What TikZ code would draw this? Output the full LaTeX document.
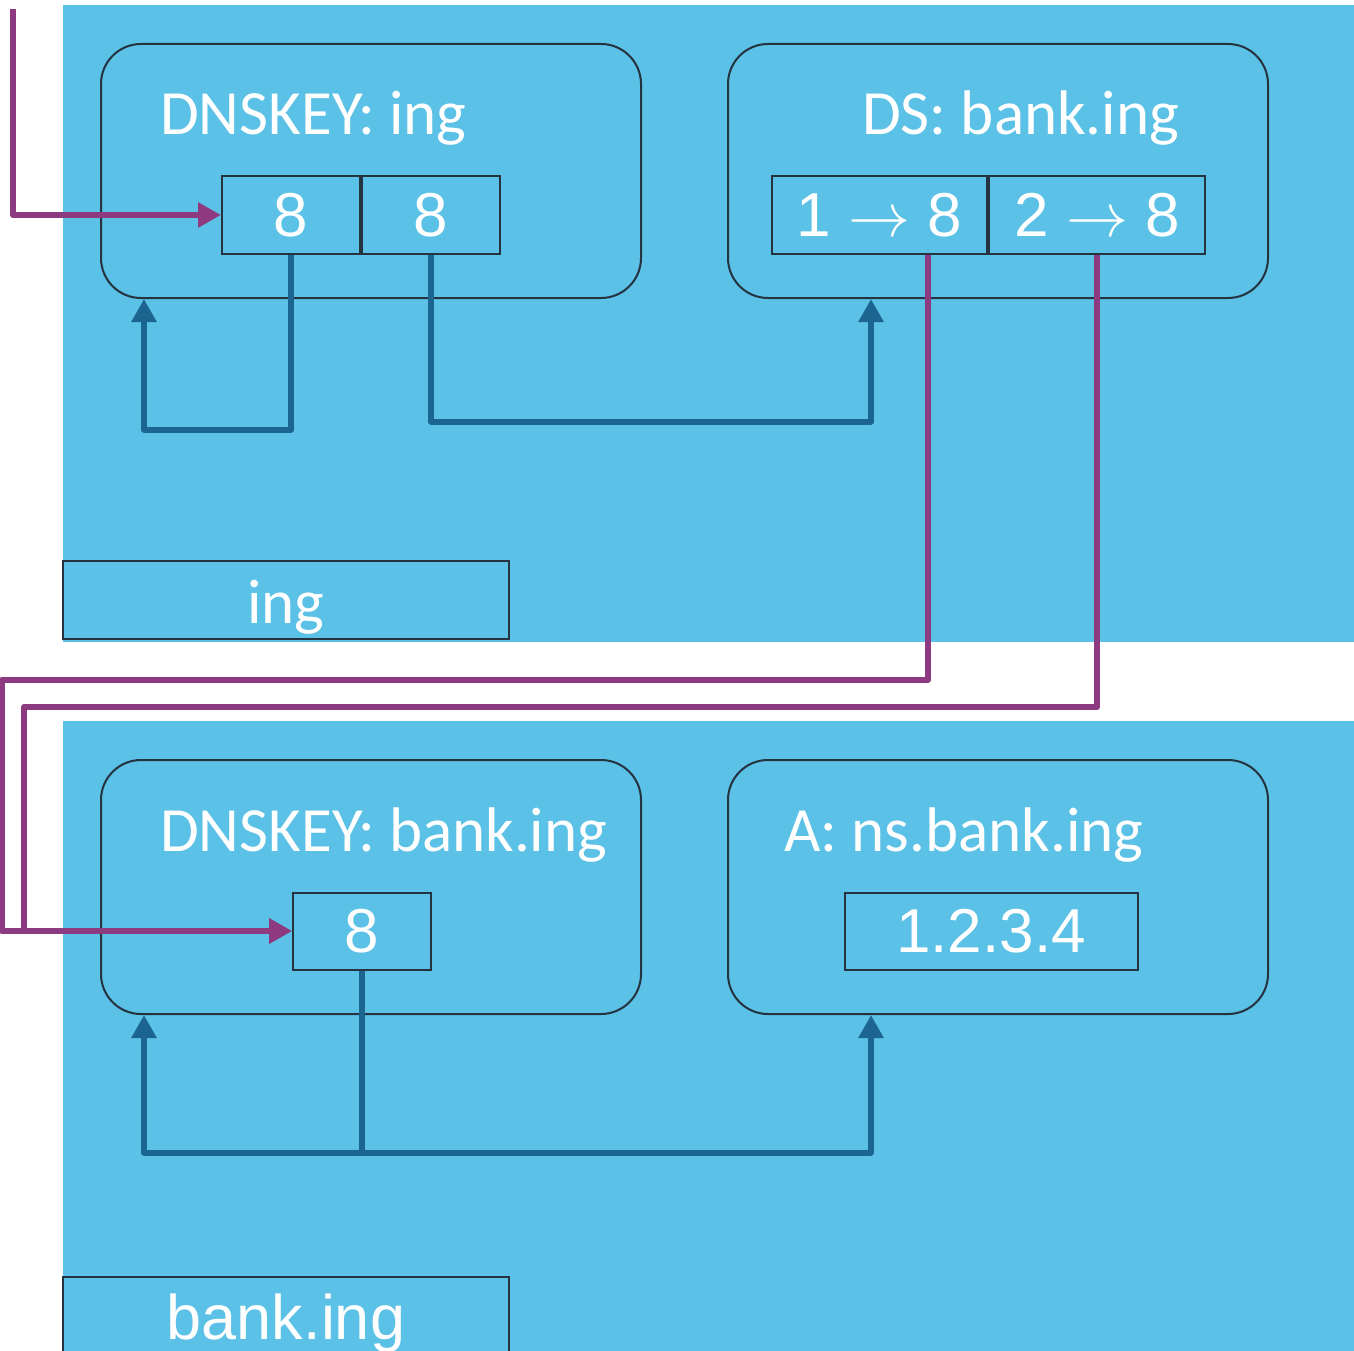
\RequirePackage{fix-cm}
\documentclass[tikz,border=0pt]{standalone}
\usepackage{fontspec}
\setmainfont{Carlito}
\newfontfamily\arialfont{Liberation Sans}
\usepackage{xcolor}
\usetikzlibrary{arrows.meta,positioning,calc}

\definecolor{zoneblue}{HTML}{5BC1E6}
\definecolor{linkblue}{HTML}{1C6590}
\definecolor{dspurple}{HTML}{8E3A80}
\definecolor{edgegray}{HTML}{25323F}

\begin{document}
\begin{tikzpicture}[x=1pt,y=-1pt]
\tikzset{zone/.style={fill=zoneblue,draw=none}}
\tikzset{rrset/.style={draw=edgegray,line width=2pt,rounded corners=40pt,minimum width=540pt,minimum height=254pt,inner sep=0pt}}
\tikzset{cell/.style={draw=edgegray,line width=2pt,minimum height=77pt,inner sep=0pt,text=white,font=\arialfont\fontsize{62}{70}\selectfont}}
\tikzset{title/.style={anchor=base west,inner sep=0pt,text=white,font=\fontsize{63}{70}\selectfont}}
\tikzset{zonelabel/.style={draw=edgegray,line width=2pt,minimum width=446pt,minimum height=78pt,inner sep=0pt,text height=46pt,text depth=0pt,text=white}}
\tikzset{bline/.style={draw=linkblue,line width=6pt,line join=round,-{Triangle[length=23pt,width=24pt]}}}
\tikzset{pline/.style={draw=dspurple,line width=6pt,line join=round,-{Triangle[length=23pt,width=24pt]}}}

\useasboundingbox (0,0) rectangle (1354,1351);

% zones
\fill[zone] (63,5) rectangle (1354,642);
\fill[zone] (63,721) rectangle (1354,1360);

% ing zone
\node[rrset] (ingkey) at (371,171) {};
\node[rrset] (bankds) at (998,171) {};
\node[title] (ingkeyname) at (160,135) {DNSKEY: ing};
\node[title] (bankdsname) at (862,135) {DS: bank.ing};
\node[cell,minimum width=138pt] (ksk) at (291,215) {8};
\node[cell,minimum width=138pt,right=0pt of ksk] (zsk) {8};
\node[cell,minimum width=215pt] (dsone) at (879.5,215) {1 $\rightarrow$ 8};
\node[cell,minimum width=216pt,right=0pt of dsone] (dstwo) {2 $\rightarrow$ 8};
\node[zonelabel,font=\fontsize{63}{70}\selectfont] (inglabel) at (286,600) {ing};

% bank.ing zone
\node[rrset] (bankkey) at (371,887) {};
\node[rrset] (nsaddr) at (998,887) {};
\node[title] (bankkeyname) at (160,851) {DNSKEY: bank.ing};
\node[title] (nsaddrname) at (784,851) {A: ns.bank.ing};
\node[cell,minimum width=138pt] (bankksk) at (362,931) {8};
\node[cell,minimum width=293pt] (ip) at (991,931) {1.2.3.4};
\node[zonelabel,font=\arialfont\fontsize{63}{70}\selectfont] (banklabel) at (286,1316) {bank.ing};

% signatures
\draw[bline] (ksk.south) -- ++(0,175) -| ($(ingkey.south west)+(44,0)$);
\draw[bline] (zsk.south) -- ++(0,167) -| ($(bankds.south west)+(144,0)$);
\draw[bline] (bankksk.south) -- ++(0,182) -| ($(bankkey.south west)+(44,0)$);
\draw[bline] (bankksk.south) -- ++(0,182) -| ($(nsaddr.south west)+(144,0)$);

% trust chain
\coordinate (anchorin) at (13,9);
\coordinate (dsonefoot) at ($(dsone.south east)+(-60,0)$);
\draw[pline] (anchorin) |- (ksk.west);
\draw[pline] (dsonefoot) |- (2,680) |- (bankksk.west);
\draw[pline] (dstwo.south) |- (24,707) |- (bankksk.west);

\end{tikzpicture}
\end{document}
